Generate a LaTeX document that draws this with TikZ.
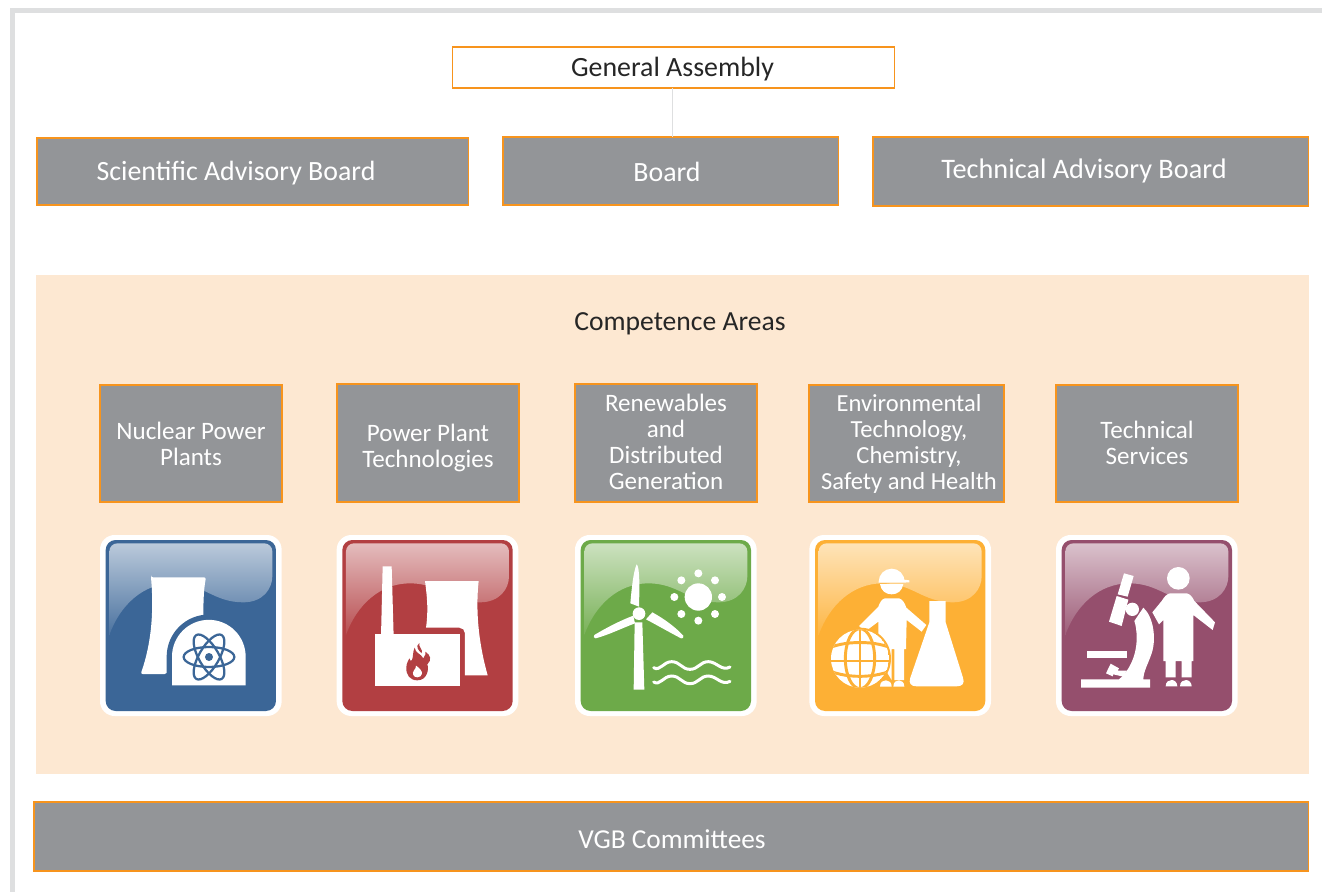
\documentclass[tikz,border=0pt]{standalone}
\usepackage{fontspec}
\setmainfont{Carlito}
\definecolor{boxgrey}{HTML}{939598}
\definecolor{edgeorange}{HTML}{F7941D}
\definecolor{peach}{HTML}{FDE8D2}
\definecolor{framegrey}{HTML}{DEDFE0}
\definecolor{iblue}{HTML}{3B6697}
\definecolor{ired}{HTML}{B23F42}
\definecolor{igreen}{HTML}{6DAA49}
\definecolor{iorange}{HTML}{FDB035}
\definecolor{iplum}{HTML}{954F6D}
\newcommand{\iconbox}[2]{%
  \fill[white,rounded corners=11pt] (#1,30) rectangle (#1+545,573);
  \fill[#2,rounded corners=7.5pt] (#1+17,45) rectangle (#1+528,558);
  \shade[top color=#2!35!white,bottom color=#2!92!white,rounded corners=6pt]
    (#1+28,330) -- (#1+28,55) -- (#1+517,55) -- (#1+517,130)
    {[rounded corners=0pt] .. controls (#1+517,190) and (#1+490,232) .. (#1+430,232)
    .. controls (#1+340,232) and (#1+310,175) .. (#1+220,175)
    .. controls (#1+130,175) and (#1+60,240) .. (#1+28,330)} -- cycle;
}
\tikzset{
  greybox/.style={draw=edgeorange,fill=boxgrey,line width=0.8pt},
  whitebox/.style={draw=edgeorange,fill=white,line width=0.8pt},
  wtext/.style={text=white,font=\fontsize{20.9}{19.5}\selectfont,align=center,inner sep=0pt},
  atext/.style={text=white,font=\fontsize{18.8}{19.5}\selectfont,align=center,inner sep=0pt},
  dtext/.style={text=black!85,font=\fontsize{20.9}{19.5}\selectfont,align=center,inner sep=0pt},
  icon/.style={shift={#1},scale=1/3},
  wave/.style={draw=white,line width=2.25pt,line cap=round},
}
\begin{document}
\begin{tikzpicture}[x=0.75pt,y=-0.75pt]
\useasboundingbox (0,0) rectangle (1322,892);
\fill[white] (0,0) rectangle (1322,892);
% frame
\fill[framegrey] (10,8) rectangle (1322,12.7);
\fill[framegrey] (10,8) rectangle (14.7,892);
% competence background
\fill[peach] (36,275) rectangle (1309,774);
% top boxes
\path[whitebox] (452.5,47) rectangle (894.5,88);
\path[greybox] (37,138) rectangle (468.5,205);
\path[greybox] (503,137) rectangle (838.5,205);
\path[greybox] (873,137) rectangle (1308.5,206);
\coordinate (gaout) at (672.5,88);
\coordinate (boardin) at (672.5,137);
\draw[framegrey,line width=0.8pt] (gaout) -- (boardin);
\node[dtext] (tga) at (672.5,69.5) {General Assembly};
\node[wtext] (tsab) at (236,173.5) {Scientific Advisory Board};
\node[wtext] (tboard) at (667,172) {Board};
\node[wtext,font=\fontsize{21.2}{19.5}\selectfont] (ttab) at (1084,170.5) {Technical Advisory Board};
\node[dtext,font=\fontsize{20.7}{19.5}\selectfont] (tca) at (680,324) {Competence Areas};
% area boxes
\path[greybox] (100,385) rectangle (282,502);
\path[greybox] (337,384) rectangle (519,502);
\path[greybox] (575,384) rectangle (757,502);
\path[greybox] (809,385) rectangle (1004,502);
\path[greybox] (1056,385) rectangle (1238,502);
\node[atext] (a1) at (191,444) {Nuclear Power\\Plants};
\node[atext] (a2) at (428,448) {Power Plant\\Technologies};
\node[atext] (a3) at (666,442) {Renewables\\and\\Distributed\\Generation};
\node[atext,font=\fontsize{18.4}{19.5}\selectfont] (a4) at (909,444) {Environmental\\Technology,\\Chemistry,\\Safety and Health};
\node[atext] (a5) at (1147,443) {Technical\\Services};
% committees
\path[greybox] (34,802) rectangle (1308.5,871);
\node[wtext,font=\fontsize{20.5}{19.5}\selectfont] (tvgb) at (672,839.5) {VGB Committees};
% ---- nuclear icon
\begin{scope}[icon={(90,525)}]
\iconbox{30}{iblue}
\fill[white,rounded corners=1.5pt] (183,157) -- (348,157) .. controls (340,200) and (340,240) .. (340,300) -- (230,447) -- (152,447)
  .. controls (172,390) and (195,300) .. (183,157) -- cycle;
\path[draw=iblue,fill=iblue,line width=8pt] (246,480) -- (246,395) arc[start angle=180,end angle=360,radius=110.5] -- (467,480) -- cycle;
\fill[white] (246,481) -- (246,395) arc[start angle=180,end angle=360,radius=110.5] -- (467,481) -- cycle;
\draw[iblue,line width=1.7pt] (357,396) ellipse[x radius=76,y radius=30];
\draw[iblue,line width=1.7pt,rotate around={60:(357,396)}] (357,396) ellipse[x radius=76,y radius=30];
\draw[iblue,line width=1.7pt,rotate around={120:(357,396)}] (357,396) ellipse[x radius=76,y radius=30];
\fill[iblue] (357,396) circle[radius=12];
\end{scope}
% ---- power plant icon
\begin{scope}[icon={(90,525)}]
\iconbox{740}{ired}
\fill[white] (878,124) -- (905,124) -- (911,335) -- (873,335) -- cycle;
\fill[white] (1005,168) -- (1166,168) .. controls (1155,270) and (1170,370) .. (1193,451) -- (1125,451) -- (1125,325)
   arc[start angle=0,end angle=-90,radius=17] -- (1008,308) .. controls (1015,260) and (1012,220) .. (1005,168) -- cycle;
\fill[white] (855,326) rectangle (1110,484);
\fill[ired] (982,466) .. controls (960,466) and (948,450) .. (949,428) .. controls (949,415) and (955,408) .. (958,400)
  .. controls (960,408) and (963,410) .. (966,405) .. controls (970,395) and (968,380) .. (974,368)
  .. controls (976,385) and (992,385) .. (1000,400) .. controls (1006,392) and (1008,385) .. (1006,380)
  .. controls (1022,390) and (1026,405) .. (1012,418) .. controls (1018,435) and (1010,466) .. (982,466) -- cycle;
\fill[ired] (988,354) .. controls (975,365) and (985,375) .. (995,385) .. controls (1000,372) and (985,368) .. (988,354) -- cycle;
\fill[white] (982,457) .. controls (970,457) and (965,445) .. (972,436) .. controls (976,432) and (978,428) .. (978,422)
  .. controls (988,428) and (998,440) .. (996,446) .. controls (994,453) and (990,457) .. (982,457) -- cycle;
\end{scope}
% ---- renewables icon
\begin{scope}[icon={(565,525)}]
\iconbox{30}{igreen}
\fill[white] (209,292) -- (232,292) -- (238,494) -- (206,494) -- cycle;
\fill[white] (215,118) .. controls (224,125) and (224,180) .. (222,245) -- (196,235) .. controls (200,190) and (205,140) .. (215,118) -- cycle;
\fill[white] (88,330) .. controls (130,305) and (170,285) .. (205,272) -- (210,295) .. controls (170,310) and (130,330) .. (92,340) .. controls (86,340) and (84,334) .. (88,330) -- cycle;
\fill[white] (262,262) .. controls (295,280) and (330,305) .. (355,332) .. controls (357,338) and (353,342) .. (348,340) .. controls (310,320) and (275,300) .. (243,283) -- cycle;
\fill[white] (222,266) circle[radius=19];
\fill[white] (400,216) circle[radius=41];
\foreach \sx/\sy in {400/145,450/166,471/216,450/267,400/287,349/267,328/216,349/166}
  \fill[white] (\sx,\sy) circle[radius=12];
\foreach \wy in {0,43}
  \draw[wave] (266,428+\wy) .. controls (285,440+\wy) and (295,410+\wy) .. (320,410+\wy)
    .. controls (345,410+\wy) and (350,433+\wy) .. (375,433+\wy)
    .. controls (400,433+\wy) and (405,410+\wy) .. (430,410+\wy)
    .. controls (455,410+\wy) and (470,440+\wy) .. (495,426+\wy);
\end{scope}
% ---- environment icon
\begin{scope}[icon={(565,525)}]
\iconbox{733}{iorange}
% person
\fill[white] (941,170) arc[start angle=180,end angle=360,radius=39] -- (1010,163) -- (1033,166) -- (1033,172) -- (1012,173) -- (941,173) -- cycle;
\fill[white] (945,177) -- (1015,177) .. controls (1012,197) and (998,208) .. (980,208) .. controls (962,208) and (948,197) .. (945,177) -- cycle;
\fill[white] (960,220) -- (1002,220) .. controls (1012,222) and (1020,235) .. (1024,248) -- (1084,300) -- (1070,320) -- (1025,285) -- (1023,372) -- (1017,372)
  -- (1017,465) -- (988,465) -- (988,372) -- (980,372) -- (980,465) -- (940,400) -- (940,290) -- (900,320) -- (882,303) -- (940,245) .. controls (945,232) and (950,222) .. (960,220) -- cycle;
\fill[white] (945,485) .. controls (945,470) and (955,466) .. (963,466) .. controls (972,466) and (980,472) .. (980,485) -- cycle;
\fill[white] (985,485) .. controls (985,470) and (995,466) .. (1002,466) .. controls (1010,466) and (1018,472) .. (1018,485) -- cycle;
% globe
\fill[iorange] (885,401) circle[radius=93];
\begin{scope}
\clip (885,401) circle[radius=87];
\fill[white] (885,401) circle[radius=87];
\draw[iorange,line width=2.2pt] (885,300) -- (885,500);
\draw[iorange,line width=2.2pt] (885,401) ellipse[x radius=44,y radius=90];
\draw[iorange,line width=2.2pt] (780,375) .. controls (830,345) and (940,345) .. (990,375);
\draw[iorange,line width=2.2pt] (780,408) -- (990,408);
\draw[iorange,line width=2.2pt] (780,430) .. controls (830,462) and (940,462) .. (990,430);
\end{scope}
% flask
\fill[white] (1093,228) -- (1142,228) -- (1142,292) -- (1194,458) .. controls (1200,475) and (1192,484) .. (1175,484) -- (1055,484) .. controls (1038,484) and (1030,475) .. (1036,458) -- (1093,292) -- cycle;
\end{scope}
% ---- services icon
\begin{scope}[icon={(1045,525)}]
\iconbox{33}{iplum}
\fill[white] (237,145) -- (266,153) -- (248,215) -- (218,208) -- cycle;
\fill[white] (215,213) -- (250,224) -- (230,303) -- (192,290) -- cycle;
\fill[white] (262,253) circle[radius=20];
\fill[white] (295,248) .. controls (325,275) and (335,340) .. (320,385) .. controls (310,415) and (295,440) .. (295,463) -- (315,463) -- (315,488) -- (108,488) -- (108,463) -- (222,463)
  .. controls (245,445) and (275,400) .. (275,340) .. controls (275,315) and (272,300) .. (268,288) -- cycle;
\fill[white] (125,378) rectangle (245,398);
\fill[white] (183,445) -- (197,416) -- (222,430) -- (218,437) -- (245,437) -- (235,455) -- (205,448) -- (203,454) -- cycle;
\fill[white] (400,160) circle[radius=34];
\fill[white] (375,205) -- (425,205) .. controls (435,207) and (442,215) .. (448,228) -- (510,292) -- (503,315) -- (445,270) -- (445,408) -- (440,408) -- (440,457) -- (410,457) -- (410,408) -- (392,408) -- (392,457) -- (362,457) -- (362,408) -- (355,408) -- (355,285) -- (342,298) -- (322,262) -- (350,228) .. controls (358,215) and (365,207) .. (375,205) -- cycle;
\fill[white] (362,484) .. controls (362,470) and (372,465) .. (380,465) .. controls (388,465) and (397,472) .. (397,484) -- cycle;
\fill[white] (405,484) .. controls (405,470) and (415,465) .. (423,465) .. controls (431,465) and (440,472) .. (440,484) -- cycle;
\end{scope}
\end{tikzpicture}
\end{document}
